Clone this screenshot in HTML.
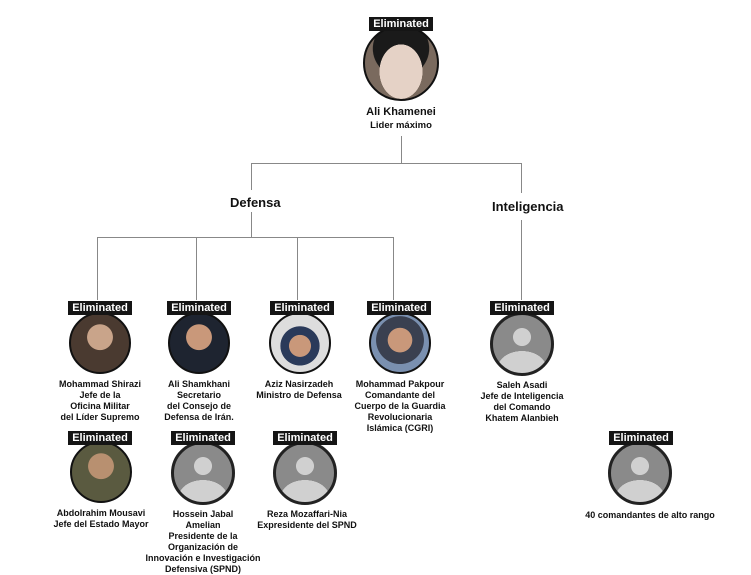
<!DOCTYPE html><html><head><style>
body{margin:0;width:751px;height:573px;background:#fff;font-family:"Liberation Sans",sans-serif;position:relative;overflow:hidden}
.b{position:absolute;background:#151515;color:#fff;font-weight:bold;font-size:11px;width:64px;height:14px;line-height:14px;text-align:center}
.c{position:absolute;border-radius:50%;border:2px solid #111;box-sizing:border-box;overflow:hidden}
.s{border:3px solid #222;background:radial-gradient(circle at 50% 38%,#d0d0d0 0 19%,transparent 20%),radial-gradient(ellipse 42% 30% at 50% 92%,#d0d0d0 0 99%,transparent 100%),#8a8a8a}
.t{position:absolute;font-size:9px;font-weight:bold;text-align:center;line-height:11px;color:#111;width:150px}
.t span{font-weight:normal}
.l{position:absolute;background:#888}
.h{position:absolute;font-weight:bold;font-size:13px;color:#111}
</style></head><body>
<div class="l" style="left:401px;top:136px;width:1px;height:27px"></div>
<div class="l" style="left:251px;top:163px;width:271px;height:1px"></div>
<div class="l" style="left:251px;top:163px;width:1px;height:27px"></div>
<div class="l" style="left:521px;top:163px;width:1px;height:30px"></div>
<div class="l" style="left:251px;top:212px;width:1px;height:25px"></div>
<div class="l" style="left:97px;top:237px;width:297px;height:1px"></div>
<div class="l" style="left:97px;top:237px;width:1px;height:63px"></div>
<div class="l" style="left:196px;top:237px;width:1px;height:63px"></div>
<div class="l" style="left:297px;top:237px;width:1px;height:63px"></div>
<div class="l" style="left:393px;top:237px;width:1px;height:63px"></div>
<div class="l" style="left:521px;top:220px;width:1px;height:80px"></div>
<div class="h" style="left:230px;top:195px">Defensa</div>
<div class="h" style="left:492px;top:199px">Inteligencia</div>

<div class="c" style="left:363px;top:25px;width:76px;height:76px;background:radial-gradient(ellipse 30% 38% at 50% 62%,#e5d2c6 0 99%,transparent 100%),radial-gradient(circle at 50% 30%,#1a1a1a 0 45%,#7a6a5e 46%)"></div>
<div class="b" style="left:369px;top:17px">Eliminated</div>
<div class="t" style="left:326px;top:106px;font-size:11px;line-height:13px">Ali Khamenei<br><span style="font-size:9.5px;font-weight:bold">Lider máximo</span></div>

<div class="c" style="left:69px;top:312px;width:62px;height:62px;background:radial-gradient(circle at 50% 40%,#c9a48a 0 28%,#4a3a30 29%)"></div>
<div class="b" style="left:68px;top:301px">Eliminated</div>
<div class="t" style="left:25px;top:379px">Mohammad Shirazi<br>Jefe de la<br>Oficina Militar<br>del Líder Supremo</div>

<div class="c" style="left:168px;top:312px;width:62px;height:62px;background:radial-gradient(circle at 50% 40%,#c9987a 0 28%,#1e2430 29%)"></div>
<div class="b" style="left:167px;top:301px">Eliminated</div>
<div class="t" style="left:124px;top:379px">Ali Shamkhani<br>Secretario<br>del Consejo de<br>Defensa de Irán.</div>

<div class="c" style="left:269px;top:312px;width:62px;height:62px;background:radial-gradient(circle at 50% 55%,#c9987a 0 25%,#2a3a5a 26% 45%,#ddd 46%)"></div>
<div class="b" style="left:270px;top:301px">Eliminated</div>
<div class="t" style="left:224px;top:379px">Aziz Nasirzadeh<br>Ministro de Defensa</div>

<div class="c" style="left:369px;top:312px;width:62px;height:62px;background:radial-gradient(circle at 50% 45%,#c9987a 0 28%,#3a4050 29% 55%,#7a90b0 56%)"></div>
<div class="b" style="left:367px;top:301px">Eliminated</div>
<div class="t" style="left:325px;top:379px">Mohammad Pakpour<br>Comandante del<br>Cuerpo de la Guardia<br>Revolucionaria<br>Islámica (CGRI)</div>

<div class="c s" style="left:490px;top:312px;width:64px;height:64px"></div>
<div class="b" style="left:490px;top:301px">Eliminated</div>
<div class="t" style="left:447px;top:380px">Saleh Asadi<br>Jefe de Inteligencia<br>del Comando<br>Khatem Alanbieh</div>

<div class="c" style="left:70px;top:441px;width:62px;height:62px;background:radial-gradient(circle at 50% 40%,#b89070 0 28%,#5a5a40 29%)"></div>
<div class="b" style="left:68px;top:431px">Eliminated</div>
<div class="t" style="left:26px;top:508px">Abdolrahim Mousavi<br>Jefe del Estado Mayor</div>

<div class="c s" style="left:171px;top:441px;width:64px;height:64px"></div>
<div class="b" style="left:171px;top:431px">Eliminated</div>
<div class="t" style="left:128px;top:509px">Hossein Jabal<br>Amelian<br>Presidente de la<br>Organización de<br>Innovación  e Investigación<br>Defensiva (SPND)</div>

<div class="c s" style="left:273px;top:441px;width:64px;height:64px"></div>
<div class="b" style="left:273px;top:431px">Eliminated</div>
<div class="t" style="left:232px;top:509px">Reza Mozaffari-Nia<br><span style="font-weight:bold">Expresidente del SPND</span></div>

<div class="c s" style="left:608px;top:441px;width:64px;height:64px"></div>
<div class="b" style="left:609px;top:431px">Eliminated</div>
<div class="t" style="left:575px;top:510px;width:150px">40 comandantes de alto rango</div>
</body></html>
